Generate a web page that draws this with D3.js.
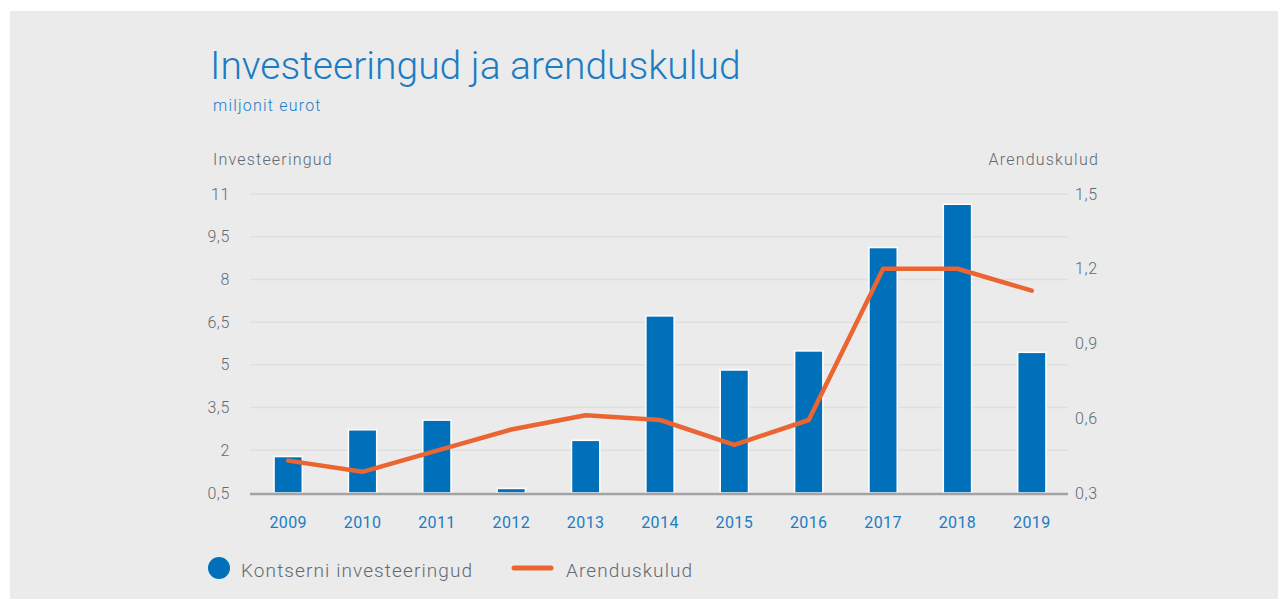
<!DOCTYPE html>
<html>
<head>
<meta charset="utf-8">
<script src="https://cdn.jsdelivr.net/npm/d3@7"></script>
<style>
  body { margin: 0; background: #fff; }
  text { font-family: Roboto, "Open Sans", sans-serif; }
</style>
</head>
<body>
<svg width="1278" height="600"></svg>
<script>
// data
var years = ["2009", "2010", "2011", "2012", "2013", "2014", "2015", "2016", "2017", "2018", "2019"];
var investments = [1.78, 2.72, 3.06, 0.66, 2.35, 6.72, 4.82, 5.49, 9.12, 10.64, 5.44];
var devCosts = [0.43, 0.385, 0.47, 0.555, 0.612, 0.593, 0.493, 0.593, 1.2, 1.2, 1.112];
var leftTicks = [0.5, 2, 3.5, 5, 6.5, 8, 9.5, 11];
var rightTicks = [0.3, 0.6, 0.9, 1.2, 1.5];

var blue = "#0070ba", orange = "#eb6532", textBlue = "#1b7cc4", grey = "#5f6a72";

var svg = d3.select("svg");
var et = d3.formatLocale({decimal: ",", thousands: " ", grouping: [3], currency: ["", "€"]});
var fmt = d => et.format(",")(d);

// background panel
svg.append("rect")
    .attr("x", 10).attr("y", 11)
    .attr("width", 1268).attr("height", 588)
    .attr("fill", "#ebebeb");

var plotLeft = 251, plotRight = 1069, plotTop = 194, plotBottom = 493;

var xScale = d3.scaleBand()
    .domain(years)
    .range([plotLeft, plotRight])
    .paddingInner(0.62)
    .paddingOuter(0.31);

var yLeft = d3.scaleLinear().domain([0.5, 11]).range([plotBottom, plotTop]);
var yRight = d3.scaleLinear().domain([0.3, 1.5]).range([plotBottom, plotTop]);

// titles
svg.append("text")
    .attr("x", 210).attr("y", 79)
    .attr("fill", textBlue)
    .attr("font-size", 39)
    .attr("font-weight", 300)
    .text("Investeeringud ja arenduskulud");

svg.append("text")
    .attr("x", 213).attr("y", 111)
    .attr("fill", textBlue)
    .attr("font-size", 16)
    .attr("font-weight", 300)
    .attr("letter-spacing", 1.2)
    .text("miljonit eurot");

svg.append("text")
    .attr("x", 213).attr("y", 165)
    .attr("fill", grey)
    .attr("font-size", 16)
    .attr("font-weight", 300)
    .attr("letter-spacing", 1.2)
    .text("Investeeringud");

svg.append("text")
    .attr("x", 1099).attr("y", 165)
    .attr("text-anchor", "end")
    .attr("fill", grey)
    .attr("font-size", 16)
    .attr("font-weight", 300)
    .attr("letter-spacing", 1.2)
    .text("Arenduskulud");

// grid lines
svg.append("g")
    .selectAll("line")
    .data(leftTicks.slice(1))
    .join("line")
    .attr("x1", plotLeft - 1).attr("x2", plotRight - 1)
    .attr("y1", d => yLeft(d)).attr("y2", d => yLeft(d))
    .attr("stroke", "#dfdfdf")
    .attr("stroke-width", 1.5);

// left axis
var leftAxis = svg.append("g")
    .attr("transform", `translate(${plotLeft},0)`)
    .call(d3.axisLeft(yLeft).tickValues(leftTicks).tickFormat(fmt).tickSize(0).tickPadding(21));
leftAxis.select(".domain").remove();
leftAxis.selectAll("text")
    .attr("fill", grey)
    .attr("font-size", 16)
    .attr("font-weight", 300)
    .attr("letter-spacing", 0.6)
    .attr("font-family", "Roboto, sans-serif");

// right axis
var rightAxis = svg.append("g")
    .attr("transform", `translate(${plotRight},0)`)
    .call(d3.axisRight(yRight).tickValues(rightTicks).tickFormat(fmt).tickSize(0).tickPadding(6));
rightAxis.select(".domain").remove();
rightAxis.selectAll("text")
    .attr("fill", grey)
    .attr("font-size", 16)
    .attr("font-weight", 300)
    .attr("letter-spacing", 0.6)
    .attr("font-family", "Roboto, sans-serif");

// bars
svg.append("g")
    .selectAll("rect")
    .data(investments)
    .join("rect")
    .attr("x", (d, i) => xScale(years[i]))
    .attr("y", d => yLeft(d))
    .attr("width", xScale.bandwidth())
    .attr("height", d => yLeft(0.5) - yLeft(d))
    .attr("fill", blue)
    .attr("stroke", "#fff")
    .attr("stroke-width", 1.5);

// base line
svg.append("line")
    .attr("x1", plotLeft - 1).attr("x2", plotRight - 1)
    .attr("y1", plotBottom + 1).attr("y2", plotBottom + 1)
    .attr("stroke", "#a3a3a3")
    .attr("stroke-width", 2.5);

// x labels
var xAxis = svg.append("g")
    .attr("transform", `translate(0,${plotBottom})`)
    .call(d3.axisBottom(xScale).tickSize(0).tickPadding(24));
xAxis.select(".domain").remove();
xAxis.selectAll("text")
    .attr("fill", textBlue)
    .attr("font-size", 16)
    .attr("font-weight", 400)
    .attr("letter-spacing", 0.4)
    .attr("font-family", "Roboto, sans-serif");

// line
var lineGenerator = d3.line()
    .x((d, i) => xScale(years[i]) + xScale.bandwidth() / 2)
    .y(d => yRight(d));

svg.append("path")
    .attr("d", lineGenerator(devCosts))
    .attr("fill", "none")
    .attr("stroke", orange)
    .attr("stroke-width", 4.5)
    .attr("stroke-linecap", "round")
    .attr("stroke-linejoin", "round");

// legend
svg.append("circle")
    .attr("cx", 219).attr("cy", 568).attr("r", 11)
    .attr("fill", blue);

svg.append("text")
    .attr("x", 241).attr("y", 577)
    .attr("fill", grey)
    .attr("font-size", 19)
    .attr("font-weight", 300)
    .attr("letter-spacing", 1.1)
    .text("Kontserni investeeringud");

svg.append("line")
    .attr("x1", 514).attr("x2", 551)
    .attr("y1", 568).attr("y2", 568)
    .attr("stroke", orange)
    .attr("stroke-width", 5)
    .attr("stroke-linecap", "round");

svg.append("text")
    .attr("x", 566).attr("y", 577)
    .attr("fill", grey)
    .attr("font-size", 19)
    .attr("font-weight", 300)
    .attr("letter-spacing", 1.1)
    .text("Arenduskulud");
</script>
</body>
</html>
